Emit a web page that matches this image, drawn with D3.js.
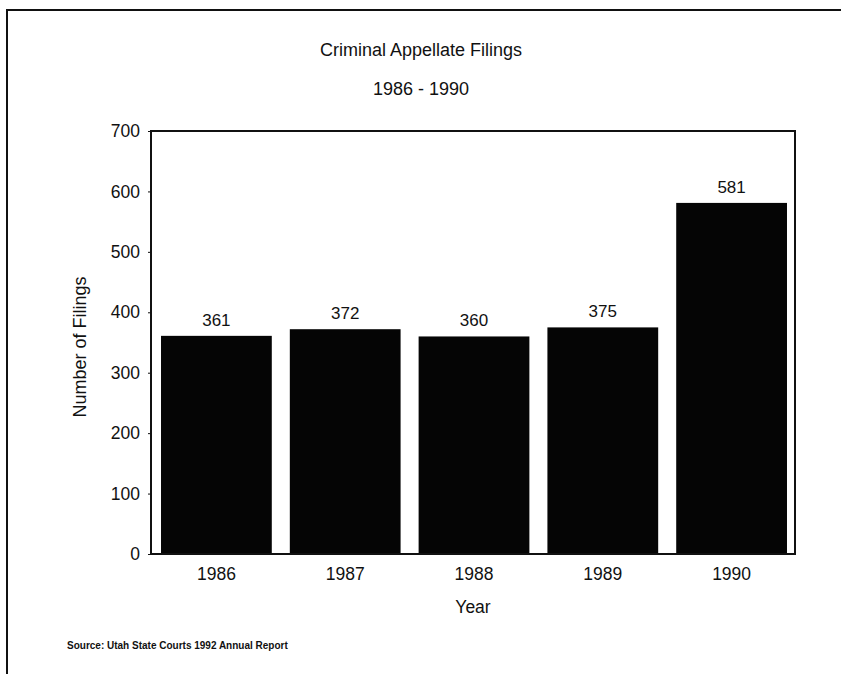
<!DOCTYPE html>
<html>
<head>
<meta charset="utf-8">
<script src="https://cdn.jsdelivr.net/npm/d3@7"></script>
<style>
  html, body { margin: 0; padding: 0; background: #fff; }
  text { font-family: "Liberation Sans", Arial, sans-serif; fill: #111; }
</style>
</head>
<body>
<svg id="chart" width="841" height="674"></svg>
<script>
const years = ["1986", "1987", "1988", "1989", "1990"];
const filings = [361, 372, 360, 375, 581];
const yTicks = [0, 100, 200, 300, 400, 500, 600, 700];

const svg = d3.select("#chart");
const W = 841, H = 674;
const m = { left: 151, top: 131, right: 795, bottom: 554 };
const FS = "17.5px";

// outer frame (page border)
svg.append("path")
  .attr("d", `M7,${H} L7,10 L${W},10`)
  .attr("fill", "none").attr("stroke", "#111").attr("stroke-width", 2);

const x = d3.scaleBand().domain(years).range([m.left, m.right])
  .paddingInner(0.14).paddingOuter(0.07);
const y = d3.scaleLinear().domain([0, 700]).range([m.bottom, m.top]);

// titles
svg.append("text").attr("x", 421).attr("y", 56).attr("text-anchor", "middle")
  .style("font-size", "18px").text("Criminal Appellate Filings");
svg.append("text").attr("x", 421).attr("y", 95).attr("text-anchor", "middle")
  .style("font-size", "18px").text("1986 - 1990");

// bars
svg.append("g").selectAll("rect").data(years).join("rect")
  .attr("x", d => x(d) + 1)
  .attr("width", x.bandwidth())
  .attr("y", (d, i) => y(filings[i]))
  .attr("height", (d, i) => y(0) - y(filings[i]))
  .attr("fill", "#050505");

// value labels
svg.append("g").selectAll("text").data(years).join("text")
  .attr("x", d => x(d) + 1 + x.bandwidth() / 2)
  .attr("y", (d, i) => y(filings[i]) - 10)
  .attr("text-anchor", "middle")
  .style("font-size", "17px")
  .text((d, i) => filings[i]);

// plot frame
svg.append("rect").attr("x", m.left).attr("y", m.top)
  .attr("width", m.right - m.left).attr("height", m.bottom - m.top)
  .attr("fill", "none").attr("stroke", "#111").attr("stroke-width", 2);

// y axis
const yAxis = d3.axisLeft(y).tickValues(yTicks).tickSize(3).tickPadding(8);
const gy = svg.append("g").attr("transform", `translate(${m.left},0)`).call(yAxis);
gy.select(".domain").remove();
gy.selectAll("line").attr("stroke", "#111");
gy.selectAll("text").style("font-size", FS).style("font-family", "'Liberation Sans', Arial, sans-serif").attr("fill", "#111");

// x axis
const xAxis = d3.axisBottom(x).tickSize(0).tickPadding(14);
const gx = svg.append("g").attr("transform", `translate(1,${m.bottom})`).call(xAxis);
gx.select(".domain").remove();
gx.selectAll("text").style("font-size", FS).style("font-family", "'Liberation Sans', Arial, sans-serif").attr("fill", "#111");

// axis titles
svg.append("text").attr("transform", "translate(86,347) rotate(-90)")
  .attr("text-anchor", "middle").style("font-size", "18px").text("Number of Filings");
svg.append("text").attr("x", 473).attr("y", 613).attr("text-anchor", "middle")
  .style("font-size", FS).text("Year");

// source
svg.append("text").attr("x", 67).attr("y", 649)
  .style("font-size", "10px").style("font-weight", "bold")
  .text("Source:  Utah State Courts 1992 Annual Report");
</script>
</body>
</html>
